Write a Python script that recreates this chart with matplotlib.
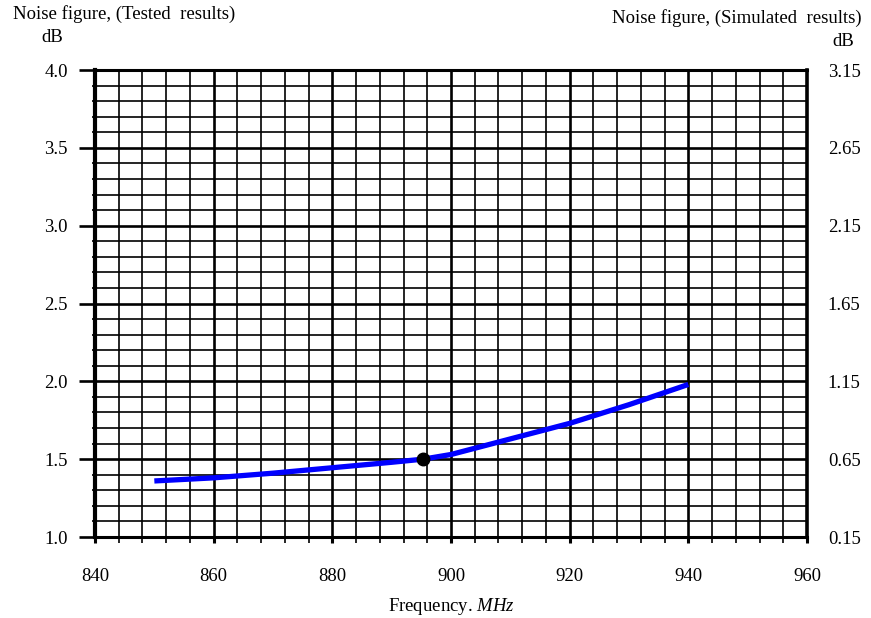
import numpy as np
import matplotlib
matplotlib.use('Agg')
import matplotlib.pyplot as plt
from matplotlib.ticker import MultipleLocator, FormatStrFormatter

# Tested noise figure (frequency in MHz, NF in dB)
freq = [850, 860, 870, 880, 890, 895.3, 900, 910, 920, 930, 940]
nf_tested = [1.36, 1.38, 1.41, 1.445, 1.48, 1.50, 1.53, 1.63, 1.73, 1.85, 1.98]
marker_freq = [895.3]
marker_nf = [1.50]

x_ticks = [840, 860, 880, 900, 920, 940, 960]
y_left_ticks = [1.0, 1.5, 2.0, 2.5, 3.0, 3.5, 4.0]
y_right_ticks = [0.15, 0.65, 1.15, 1.65, 2.15, 2.65, 3.15]

plt.rcParams['font.family'] = ['Liberation Serif', 'DejaVu Serif']
plt.rcParams['font.size'] = 13.5
plt.rcParams['mathtext.fontset'] = 'custom'
plt.rcParams['mathtext.rm'] = 'Liberation Serif'
plt.rcParams['mathtext.it'] = 'Liberation Serif:italic'

fig = plt.figure(figsize=(8.71, 6.18), dpi=100)
ax = fig.add_axes([95 / 871, 81 / 618, 712 / 871, 467 / 618])

ax.set_xlim(840, 960)
ax.set_ylim(1.0, 4.0)
ax.set_xticks(x_ticks)
ax.xaxis.set_minor_locator(MultipleLocator(4))
ax.set_yticks(y_left_ticks)
ax.yaxis.set_minor_locator(MultipleLocator(0.1))
ax.yaxis.set_major_formatter(FormatStrFormatter('%.1f'))

# graph-paper grid
ax.grid(which='major', color='black', linewidth=1.9)
ax.grid(which='minor', color='black', linewidth=1.2)
ax.set_axisbelow(True)

ax.tick_params(axis='y', which='major', length=11.5, width=1.9, pad=8)
ax.tick_params(axis='y', which='minor', length=2.5, width=1.2)
ax.tick_params(axis='x', which='major', length=4.5, width=2.2, pad=18)
ax.tick_params(axis='x', which='minor', length=4, width=1.2)

for side, lw in [('left', 3.0), ('bottom', 2.2), ('top', 2.2), ('right', 2.6)]:
    ax.spines[side].set_linewidth(lw)
    ax.spines[side].set_color('black')

ax.plot(freq, nf_tested, color='#0000ff', linewidth=3.8,
        solid_capstyle='butt', zorder=5)
ax.plot(marker_freq, marker_nf, 'o', color='black', markersize=9, zorder=6)

ax2 = ax.twinx()
ax2.set_ylim(0.15, 3.15)
ax2.set_yticks(y_right_ticks)
ax2.yaxis.set_major_formatter(FormatStrFormatter('%.2f'))
ax2.tick_params(axis='y', length=0, pad=15)
for side in ['left', 'bottom', 'top', 'right']:
    ax2.spines[side].set_visible(False)

ax.set_xlabel('Frequency. $\\mathit{MHz}$', labelpad=8)

fig.text(13 / 871, 1 - 14 / 618, 'Noise figure, (Tested  results)',
         ha='left', va='center')
fig.text(52 / 871, 1 - 38 / 618, 'dB', ha='center', va='center')
fig.text(862 / 871, 1 - 18 / 618, 'Noise figure, (Simulated  results)',
         ha='right', va='center')
fig.text(843 / 871, 1 - 42 / 618, 'dB', ha='center', va='center')

fig.savefig('out.png', dpi=100)
